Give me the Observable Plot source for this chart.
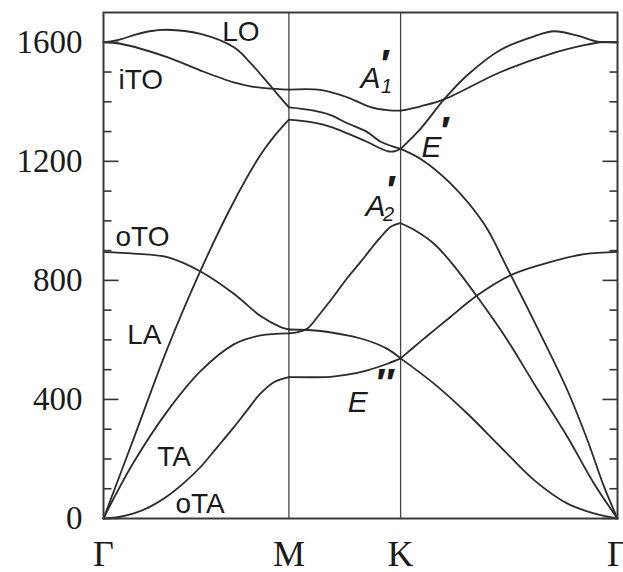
<!DOCTYPE html>
<html>
<head>
<meta charset="utf-8">
<script src="https://cdn.jsdelivr.net/npm/d3@7"></script>
<script src="https://cdn.jsdelivr.net/npm/@observablehq/plot@0.6"></script>
<style>
  html, body { margin: 0; padding: 0; background: #fff; }
</style>
</head>
<body>
<div id="chart"></div>
<script>
// High-symmetry points along the path (fractional path coordinate)
const kLabels = ["Γ", "M", "K", "Γ"];
const kPos = [0, 0.3607, 0.578, 1];

// Y ticks (cm⁻¹)
const yTicks = [0, 400, 800, 1200, 1600];
const yMinor = [100, 200, 300, 500, 600, 700, 900, 1000, 1100, 1300, 1400, 1500];

// Branch values [path coordinate, frequency] — Γ→M
const ZA_GM  = [[0,0],[0.03,5],[0.059,17],[0.09,39],[0.124,75],[0.156,119],[0.1888,173],[0.2215,240],[0.2537,307],[0.28,365],[0.3056,420],[0.3315,458],[0.3607,475]];
const TA_GM  = [[0,0],[0.02,68],[0.059,190],[0.124,360],[0.1888,495],[0.2537,585],[0.3056,615],[0.3607,622]];
const LA_GM  = [[0,0],[0.059,270],[0.124,570],[0.1888,833],[0.2537,1065],[0.3056,1222],[0.3315,1283],[0.3607,1340]];
const ZO_GM  = [[0,895],[0.059,890],[0.124,878],[0.1888,830],[0.2537,755],[0.3056,680],[0.3446,643],[0.3607,635]];
const iTO_GM = [[0,1600],[0.033,1595],[0.124,1550],[0.1888,1505],[0.2537,1465],[0.2862,1452],[0.3187,1445],[0.3607,1441]];
const LO_GM  = [[0,1600],[0.033,1610],[0.059,1624],[0.09,1637],[0.124,1642],[0.1888,1628],[0.2537,1583],[0.2862,1530],[0.3187,1466],[0.3446,1413],[0.3607,1381]];

// M→K
const ZA_MK  = [[0.3607,475],[0.4419,476],[0.4744,483],[0.5133,498],[0.5523,520],[0.578,538]];
const ZO_MK  = [[0.3607,635],[0.4224,630],[0.4744,615],[0.5133,598],[0.5523,570],[0.578,538]];
const TA_MK  = [[0.3607,622],[0.3785,626],[0.3965,638],[0.419,683],[0.4419,733],[0.4744,808],[0.5003,862],[0.5198,905],[0.5392,945],[0.5588,980],[0.578,992]];
const LA_MK  = [[0.3607,1340],[0.4094,1330],[0.4419,1316],[0.4744,1294],[0.5133,1265],[0.5392,1243],[0.555,1233],[0.568,1234],[0.578,1242]];
const LO_MK  = [[0.3607,1381],[0.4094,1370],[0.4419,1355],[0.4744,1328],[0.5133,1298],[0.5392,1266],[0.578,1242]];
const iTO_MK = [[0.3607,1441],[0.4224,1440],[0.4744,1415],[0.5198,1382],[0.552,1372],[0.578,1370]];

// K→Γ
const ZA_KG  = [[0.578,538],[0.643,453],[0.7081,352],[0.7728,240],[0.8377,129],[0.9027,50],[0.9545,17],[1,0]];
const ZO_KG  = [[0.578,538],[0.6171,595],[0.643,632],[0.6755,678],[0.7275,750],[0.7956,820],[0.8702,862],[0.9351,888],[1,896]];
const TA_KG  = [[0.578,992],[0.604,970],[0.643,923],[0.6755,862],[0.7275,744],[0.7859,599],[0.8377,453],[0.9027,274],[0.9545,117],[1,0]];
const LA_KG  = [[0.578,1242],[0.6171,1208],[0.6755,1125],[0.7403,990],[0.7859,840],[0.8571,595],[0.9027,430],[0.9416,263],[0.974,106],[1,0]];
const LO_KG  = [[0.578,1242],[0.6171,1310],[0.6625,1408],[0.7081,1490],[0.7728,1575],[0.8377,1620],[0.8766,1637],[0.9221,1622],[0.9611,1602],[1,1600]];
const iTO_KG = [[0.578,1370],[0.6171,1385],[0.6625,1408],[0.7728,1500],[0.8702,1561],[0.9351,1590],[0.9675,1600],[1,1600]];

// Branch labels
const modeNames = ["LO", "iTO", "oTO", "LA", "TA", "oTA"];
const modeQ = [0.231, 0.0292, 0.0233, 0.0461, 0.1045, 0.1401];
const modeW = [1633, 1472, 946, 615, 206, 50];

// Irreducible representation labels at K
const irrBase = ["A", "E", "A", "E"];
const irrBaseQ = [0.5195, 0.6381, 0.5292, 0.4947];
const irrBaseW = [1480, 1246, 1050, 391];
const irrPrime = ["′", "′", "′", "″"];
const irrPrimeQ = [0.5447, 0.6615, 0.5564, 0.5453];
const irrPrimeW = [1524, 1298, 1100, 450];
const irrSub = ["1", "2"];
const irrSubQ = [0.5506, 0.5545];
const irrSubW = [1450, 1020];

const segments = {
  ZA_GM, TA_GM, LA_GM, ZO_GM, iTO_GM, LO_GM,
  ZA_MK, TA_MK, LA_MK, ZO_MK, iTO_MK, LO_MK,
  ZA_KG, TA_KG, LA_KG, ZO_KG, iTO_KG, LO_KG
};
const lineData = Object.entries(segments).flatMap(([id, pts]) =>
  pts.map(([q, w]) => ({id, q, w}))
);

const zip = (names, qs, ws) => names.map((t, i) => ({t, q: qs[i], w: ws[i]}));

// Inward tick glyphs (horizontal strokes drawn from the frame edge)
const tickGlyph = (len) => ({draw(ctx) { ctx.moveTo(0, 0); ctx.lineTo(len, 0); }});
const tickOpts = {y: d => d, fill: "none", stroke: "#333", strokeWidth: 1.6, r: 3};

const ink = "#2b2b2b";
const chart = Plot.plot({
  width: 623,
  height: 572,
  marginLeft: 103,
  marginRight: 6,
  marginTop: 12,
  marginBottom: 54,
  x: {domain: [0, 1], axis: null},
  y: {domain: [0, 1700], axis: null},
  style: {background: "#fff", color: ink},
  marks: [
    Plot.ruleX(kPos.slice(1, 3), {stroke: "#444", strokeWidth: 1.3}),
    Plot.line(lineData, {x: "q", y: "w", z: "id", curve: "catmull-rom", stroke: ink, strokeWidth: 1.8}),
    // inward ticks on both sides
    Plot.dot(yMinor, {...tickOpts, x: kPos[0], symbol: tickGlyph(8)}),
    Plot.dot(yTicks, {...tickOpts, x: kPos[0], symbol: tickGlyph(15)}),
    Plot.dot(yMinor, {...tickOpts, x: kPos[3], symbol: tickGlyph(-8)}),
    Plot.dot(yTicks, {...tickOpts, x: kPos[3], symbol: tickGlyph(-15)}),
    // y tick labels
    Plot.axisY(yTicks, {anchor: "left", tickSize: 0, tickPadding: 21, label: null, fontSize: 33, fontFamily: "Liberation Serif", fill: "#1a1a1a", tickFormat: d => String(d)}),
    Plot.frame({stroke: "#3a3a3a", strokeWidth: 2}),
    // x labels
    Plot.text(zip(kLabels, kPos, kPos), {x: "q", text: "t", frameAnchor: "bottom", lineAnchor: "top", dy: 22, fontSize: 36, fontFamily: "Liberation Serif", fill: "#1a1a1a"}),
    // branch labels
    Plot.text(zip(modeNames, modeQ, modeW), {x: "q", y: "w", text: "t", textAnchor: "start", lineAnchor: "middle", fontSize: 28, fontFamily: "Liberation Sans", fill: "#1a1a1a"}),
    // irreps
    Plot.text(zip(irrBase, irrBaseQ, irrBaseW), {x: "q", y: "w", text: "t", fontStyle: "italic", fontSize: 30, fontFamily: "Liberation Sans", fill: "#1a1a1a"}),
    Plot.text(zip(irrPrime, irrPrimeQ, irrPrimeW), {x: "q", y: "w", text: "t", fontStyle: "italic", fontWeight: "bold", fontSize: 40, fontFamily: "Liberation Sans", fill: "#1a1a1a"}),
    Plot.text(zip(irrSub, irrSubQ, irrSubW), {x: "q", y: "w", text: "t", fontStyle: "italic", fontSize: 20, fontFamily: "Liberation Sans", fill: "#1a1a1a"})
  ]
});
document.getElementById("chart").appendChild(chart);
</script>
</body>
</html>
